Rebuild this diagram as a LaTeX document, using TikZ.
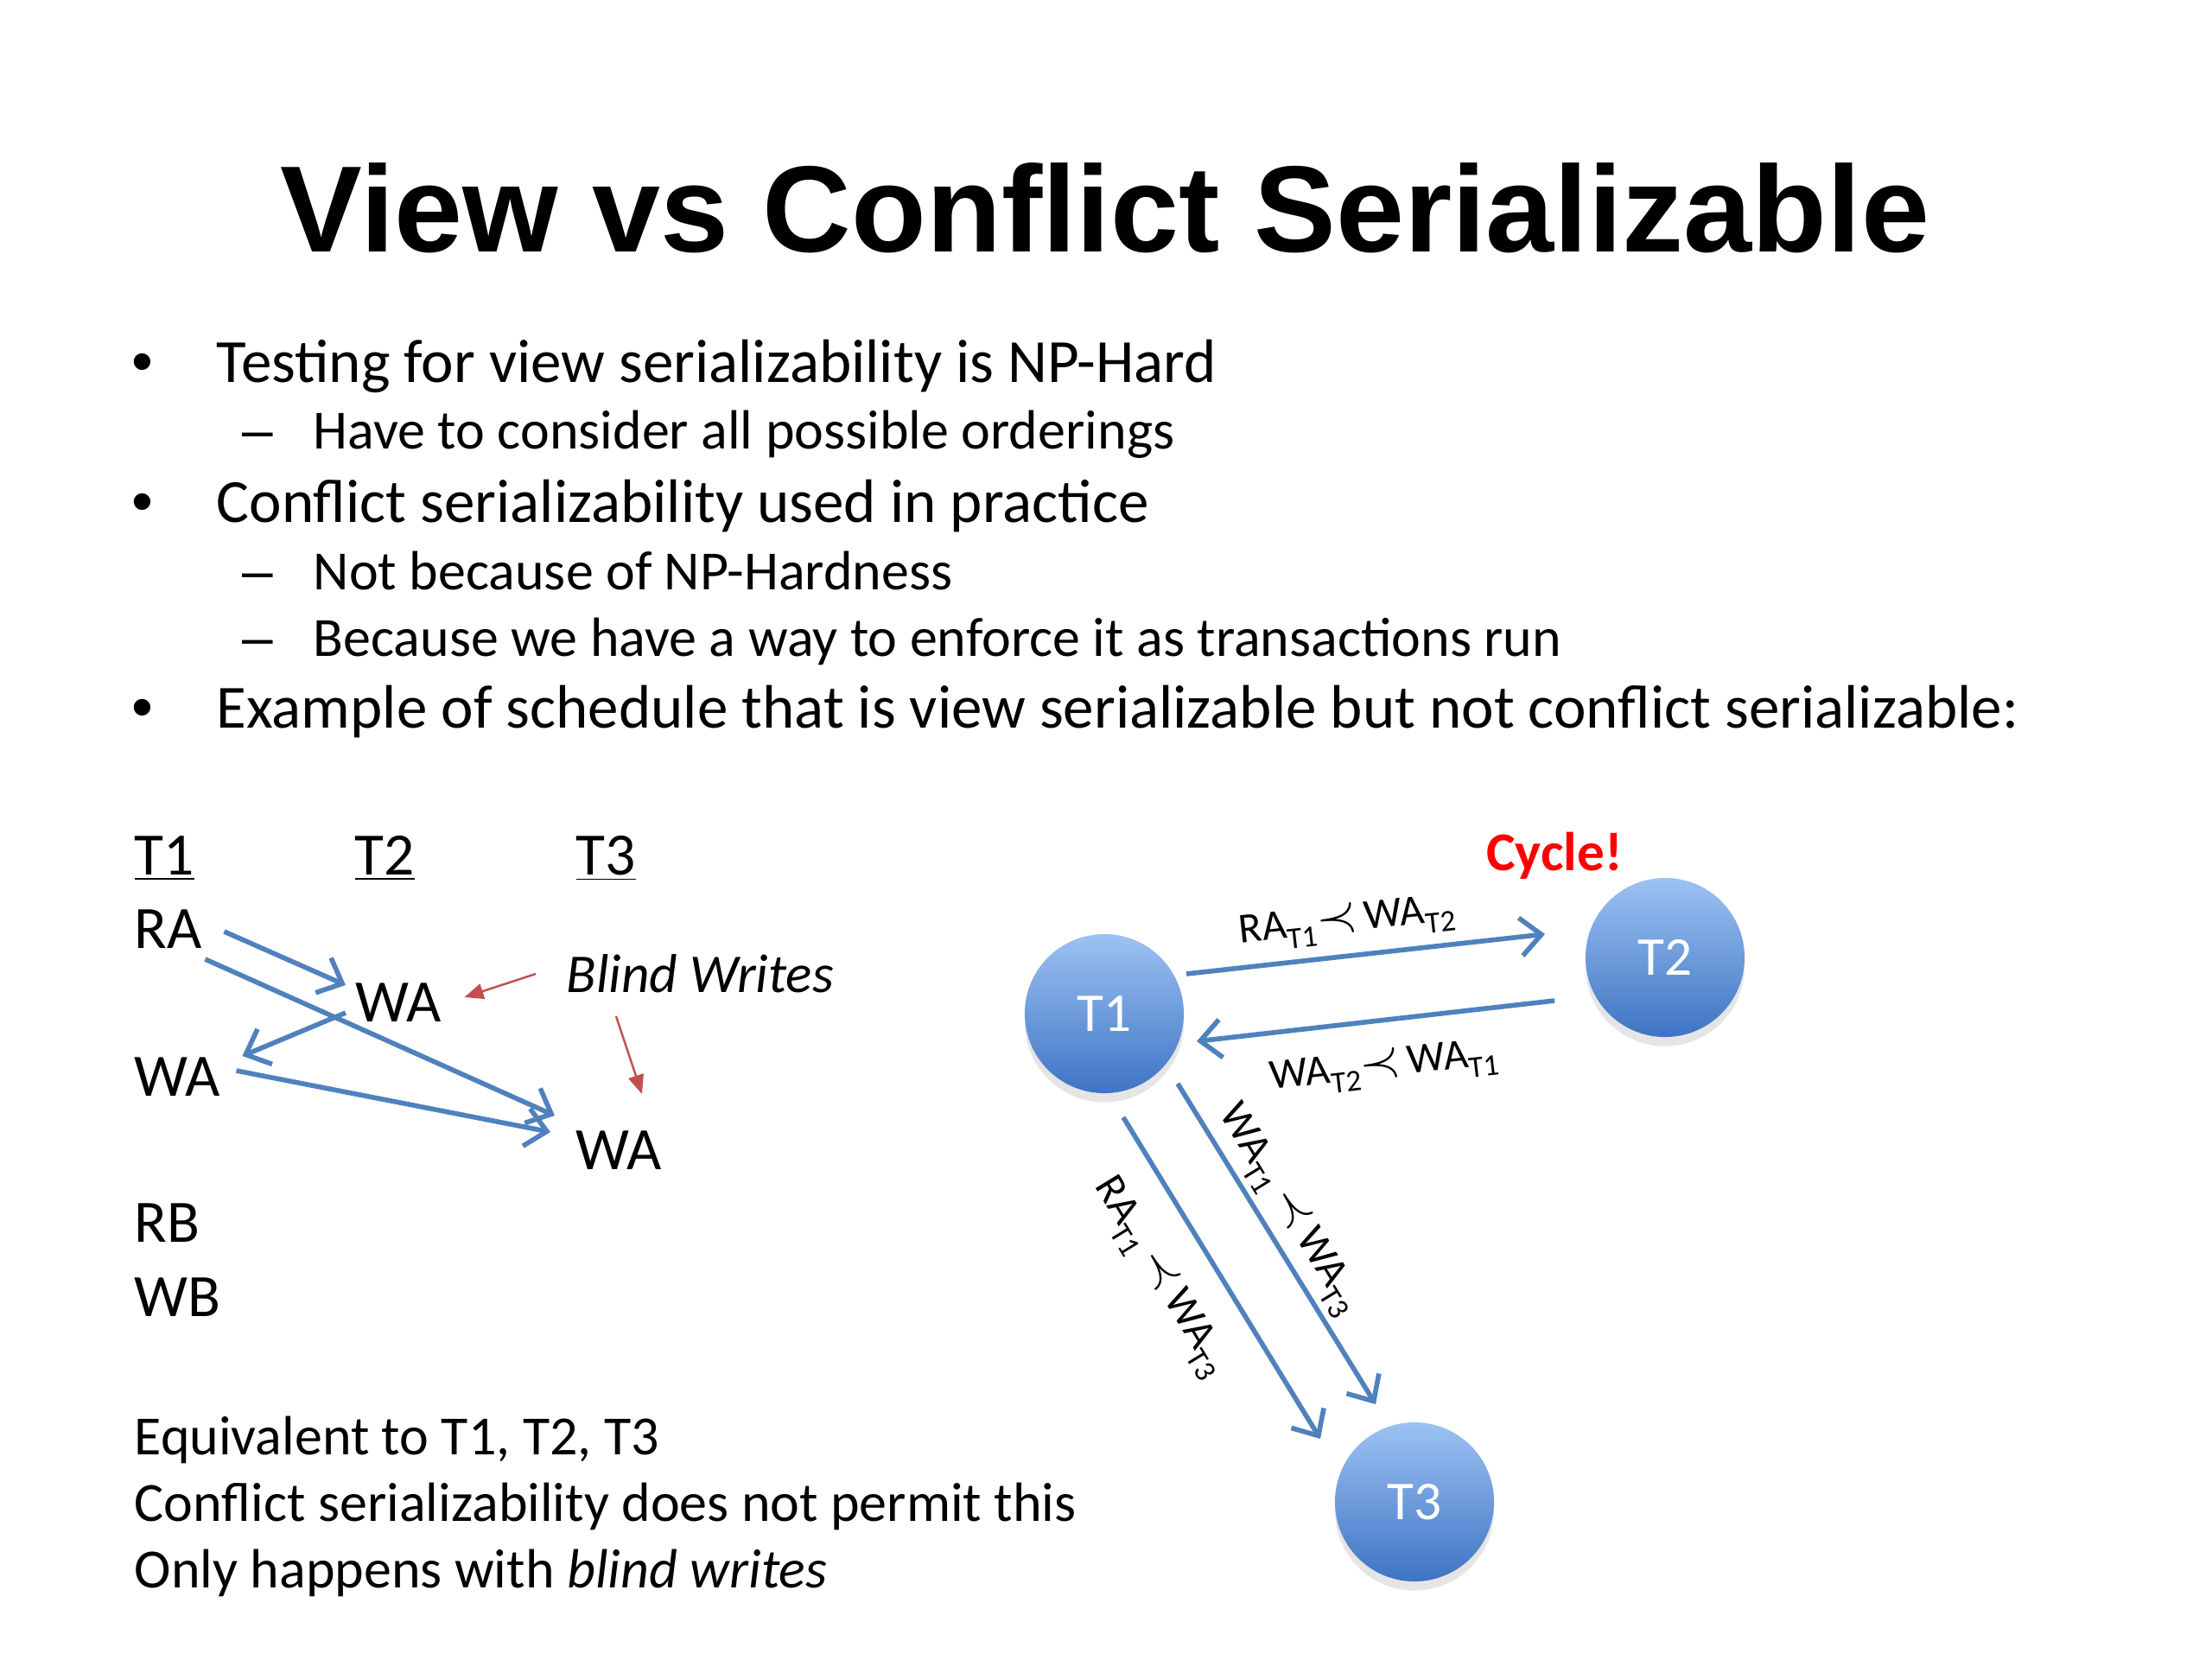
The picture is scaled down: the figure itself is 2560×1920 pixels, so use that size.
\documentclass[tikz,border=0pt]{standalone}
\usepackage{fontspec}
\setmainfont{Carlito}
\newfontfamily\headfont{Liberation Sans}
\usetikzlibrary{arrows.meta,calc,shadows}
\definecolor{Steel}{HTML}{4F81BD}
\definecolor{Brick}{HTML}{C0504D}
\definecolor{OrbTop}{HTML}{9DC2F3}
\definecolor{OrbBottom}{HTML}{3E74C4}
\newcommand{\tx}[1]{\raisebox{-.55ex}{\fontsize{10}{12}\selectfont #1}}
\newcommand{\before}{{\fontsize{17}{18}\selectfont$\prec$}}

\begin{document}
\begin{tikzpicture}[x=0.01cm,y=-0.01cm,
txt/.style={inner sep=0pt,anchor=base west},
body/.style={txt,font=\fontsize{20.2}{24}\selectfont},
subline/.style={txt,font=\fontsize{18.2}{22}\selectfont},
op/.style={txt,font=\fontsize{19.8}{23}\selectfont},
txn/.style={circle,minimum size=1.84cm,inner sep=0pt,top color=OrbTop,bottom color=OrbBottom,text=white,font=\fontsize{18}{22}\selectfont,drop shadow={opacity=.2,shadow xshift=0pt,shadow yshift=-3pt}},
link/.style={-{Straight Barb[length=2.4mm,width=4.4mm]},line width=1.6pt,draw=Steel},
pointer/.style={-{Triangle[length=2.2mm,width=1.8mm]},line width=.7pt,draw=Brick},
order/.style={inner sep=0pt,font=\fontsize{14}{16}\selectfont}]
\fill[white] (0,0) rectangle (2560,1920);
\node[anchor=base,inner sep=0pt,font=\headfont\bfseries\fontsize{40.4}{48}\selectfont] (title) at (1279,291) {View vs Conflict Serializable};
% bullets
\foreach \y in {442,604,842} \node[body,anchor=base,font=\headfont\fontsize{20.2}{24}\selectfont] (dot\y) at (165,\y) {•};
\foreach \y in {519,682,759} \node[subline,anchor=base,font=\headfont\fontsize{18.2}{22}\selectfont] (dash\y) at (298,\y) {–};
\node[body] (p1) at (250,442) {Testing for view serializability is NP-Hard};
\node[subline] (p1a) at (362,519) {Have to consider all possible orderings};
\node[body] (p2) at (250,604) {Conflict serializability used in practice};
\node[subline] (p2a) at (362,682) {Not because of NP-Hardness};
\node[subline] (p2b) at (362,759) {Because we have a way to enforce it as transactions run};
\node[body] (p3) at (250,842) {Example of schedule that is view serializable but not conflict serializable:};
% schedule
\node[op] (hdrA) at (155,1012) {\underline{T1}};
\node[op] (hdrB) at (410,1012) {\underline{T2}};
\node[op] (hdrC) at (666,1012) {\underline{T3}};
\node[op] (ra1) at (155,1097) {RA};
\node[op] (wa2) at (411,1182) {WA};
\node[op] (wa1) at (155,1268) {WA};
\node[op] (wa3) at (666,1353) {WA};
\node[op] (rb1) at (155,1437) {RB};
\node[op] (wb1) at (155,1523) {WB};
\node[op,font=\fontsize{18}{22}\selectfont\itshape] (blind) at (655,1148) {Blind Writes};
\draw[link] ($(ra1.base east)+(25,-19)$) -- ($(wa2.base west)+(-11,-42)$);
\draw[link] ($(ra1.base east)+(3,13)$) -- ($(wa3.base west)+(-24,-62)$);
\draw[link] ($(wa2.base west)+(-11,-10)$) -- ($(wa1.base east)+(25,-46)$);
\draw[link] ($(wa1.base east)+(18,-29)$) -- ($(wa3.base west)+(-29,-43)$);
\draw[pointer] ($(blind.base west)+(-35,-21)$) -- ($(wa2.base east)+(26,-28)$);
\draw[pointer] ($(blind.base west)+(58,28)$) -- ($(wa3.base west)+(77,-87)$);
% conflict graph
\node[txn] (t1) at (1278,1173) {T1};
\node[txn] (t2) at (1927,1108) {T2};
\node[txn] (t3) at (1637,1738) {T3};
\node[anchor=base,inner sep=0pt,text=red,font=\bfseries\fontsize{18}{22}\selectfont] (cycle) at (1799,1007) {Cycle!};
\draw[link] ($(t1)+(95,-46)$) -- ($(t2)+(-139,-27)$);
\draw[link] ($(t2)+(-128,50)$) -- ($(t1)+(107,32)$);
\draw[link] ($(t1)+(85,81)$) -- ($(t3)+(-45,-113)$);
\draw[link] ($(t1)+(22,120)$) -- ($(t3)+(-109,-73)$);
\node[order,rotate=6.3] (lab12) at (1559,1068) {RA\tx{T1}\before\,WA\tx{T2}};
\node[order,rotate=6.5] (lab21) at (1602,1236) {WA\tx{T2}\before\,WA\tx{T1}};
\node[order,rotate=-58.3] (lab13w) at (1491,1400) {WA\tx{T1}\,\before\,WA\tx{T3}};
\node[order,rotate=-58.5] (lab13r) at (1342,1478) {RA\tx{T1}\,\before\,WA\tx{T3}};
% notes
\node[subline] (eq) at (155,1683) {Equivalent to T1, T2, T3};
\node[subline] (noperm) at (155,1760) {Conflict serializability does not permit this};
\node[subline] (onlyblind) at (155,1837) {Only happens with \textit{blind writes}};
\end{tikzpicture}
\end{document}
